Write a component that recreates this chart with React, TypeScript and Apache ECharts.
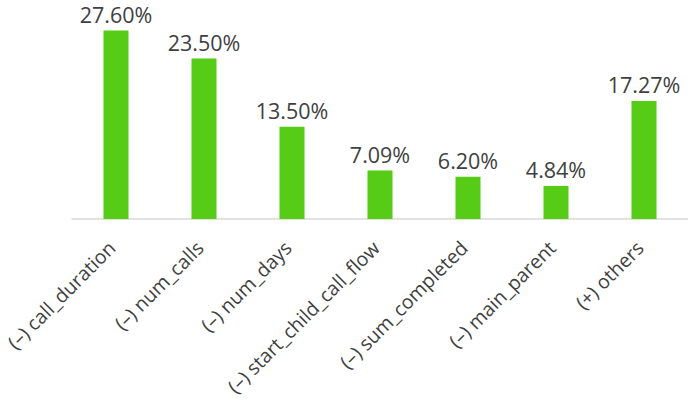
import React, { useEffect, useRef } from "react";
import * as echarts from "echarts";

const categories = [
  "(–) call_duration",
  "(–) num_calls",
  "(–) num_days",
  "(–) start_child_call_flow",
  "(–) sum_completed",
  "(–) main_parent",
  "(+) others",
];
const values = [27.6, 23.5, 13.5, 7.09, 6.2, 4.84, 17.27];

export default function App() {
  const ref = useRef<HTMLDivElement>(null);
  useEffect(() => {
    const chart = echarts.init(ref.current!, null, { renderer: "svg" });
    chart.setOption({
      animation: false,
      grid: {
        left: 72,
        right: 0,
        top: 14,
        bottom: 413 - 219,
        containLabel: false,
        outerBoundsMode: "none",
      },
      xAxis: {
        type: "category",
        data: categories,
        axisLine: { lineStyle: { color: "#d9d9d9", width: 1.5 } },
        axisTick: { show: false },
        axisLabel: {
          rotate: 45,
          interval: 0,
          margin: 21,
          padding: [0, 6, 0, 0],
          color: "#404040",
          fontSize: 19.5,
          lineHeight: 12,
          fontFamily: "Open Sans",
        },
      },
      yAxis: {
        type: "value",
        min: 0,
        max: 30,
        show: false,
        splitLine: { show: false },
      },
      series: [
        {
          type: "bar",
          data: values,
          barWidth: 25,
          itemStyle: { color: "#56cc16" },
          label: {
            show: true,
            position: "top",
            distance: 6,
            color: "#404040",
            fontSize: 21.5,
            lineHeight: 20,
            fontFamily: "Open Sans",
            formatter: (p: any) => p.value.toFixed(2) + "%",
          },
        },
      ],
    });
    return () => chart.dispose();
  }, []);
  return (
    <div
      ref={ref}
      style={{ position: "absolute", left: 0, top: 0, width: 688, height: 413, background: "#fff" }}
    />
  );
}
